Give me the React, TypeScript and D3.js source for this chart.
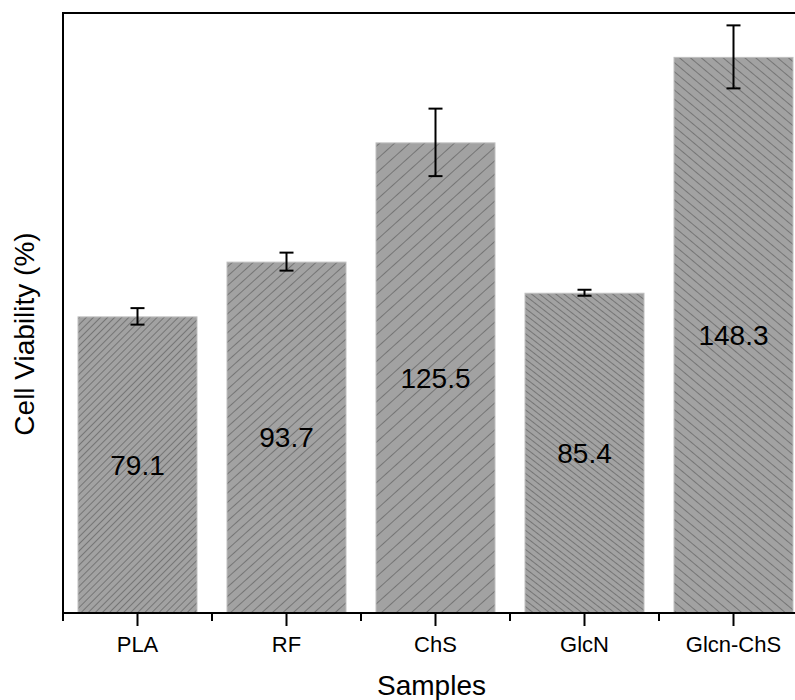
import React from "react";
import * as d3 from "d3";

const categories = ["PLA", "RF", "ChS", "GlcN", "Glcn-ChS"];
const values = [79.1, 93.7, 125.5, 85.4, 148.3];
const errors = [2.2, 2.4, 9.0, 0.8, 8.4];
const hatchDir = ["/", "/", "/", "\\", "\\"];
const hatchAngle = [45, 42, 42, 38, 40];
const hatchGap = [5, 7, 10, 5, 7];
const yDomain = [0, 160];

const W = 795;
const H = 700;
const left = 63;
const right = 808;
const top = 13;
const bottom = 613;

export default function App() {
  const x = d3
    .scaleBand<string>()
    .domain(categories)
    .range([left, right])
    .paddingInner(29 / 149)
    .paddingOuter(29 / 149 / 2);
  const y = d3.scaleLinear().domain(yDomain).range([bottom, top]);
  const step = x.step();
  const bw = x.bandwidth();
  const font = "'Liberation Sans', Arial, sans-serif";

  return (
    <svg
      width={W}
      height={H}
      style={{ position: "absolute", left: 0, top: 0, display: "block", background: "#fff" }}
    >
      <defs>
        {categories.map((c, i) => {
          const rot = hatchDir[i] === "/" ? 90 - hatchAngle[i] : -(90 - hatchAngle[i]);
          const g = hatchGap[i];
          return (
            <pattern
              key={c}
              id={`hatch${i}`}
              patternUnits="userSpaceOnUse"
              width={g}
              height={g}
              patternTransform={`rotate(${rot})`}
            >
              <rect width={g} height={g} fill="#a2a2a2" />
              <line x1={0.5} y1={0} x2={0.5} y2={g} stroke="#757575" strokeWidth={1} />
            </pattern>
          );
        })}
      </defs>

      {categories.map((c, i) => {
        const x0 = x(c)!;
        const yTop = y(values[i]);
        const cx = x0 + bw / 2;
        const eTop = y(values[i] + errors[i]);
        const eBot = y(values[i] - errors[i]);
        const mid = (yTop + bottom) / 2;
        return (
          <g key={c}>
            <rect
              x={x0 + 0.5}
              y={yTop + 0.5}
              width={bw - 1}
              height={bottom - yTop - 0.5}
              fill={`url(#hatch${i})`}
              stroke="#bfbfbf"
              strokeWidth={1}
            />
            <line x1={cx} x2={cx} y1={eTop} y2={eBot} stroke="#000" strokeWidth={2} />
            <line x1={cx - 7} x2={cx + 7} y1={eTop} y2={eTop} stroke="#000" strokeWidth={2} />
            <line x1={cx - 7} x2={cx + 7} y1={eBot} y2={eBot} stroke="#000" strokeWidth={2} />
            <text
              x={cx}
              y={mid + 10}
              textAnchor="middle"
              fontFamily={font}
              fontSize={28}
              fill="#000"
            >
              {values[i].toFixed(1)}
            </text>
          </g>
        );
      })}

      {/* frame */}
      <line x1={left} x2={right} y1={top} y2={top} stroke="#000" strokeWidth={2} />
      <line x1={left} x2={left} y1={top - 1} y2={bottom + 1} stroke="#000" strokeWidth={2} />
      <line x1={left - 1} x2={right} y1={bottom} y2={bottom} stroke="#000" strokeWidth={2} />

      {/* ticks */}
      {categories.map((c, i) => (
        <g key={"t" + c}>
          <line
            x1={x(c)! + bw / 2}
            x2={x(c)! + bw / 2}
            y1={bottom}
            y2={bottom + 13}
            stroke="#000"
            strokeWidth={2}
          />
          <line
            x1={left + i * step}
            x2={left + i * step}
            y1={bottom}
            y2={bottom + 8}
            stroke="#000"
            strokeWidth={2}
          />
          <text
            x={x(c)! + bw / 2}
            y={652}
            textAnchor="middle"
            fontFamily={font}
            fontSize={22}
            fill="#000"
          >
            {c}
          </text>
        </g>
      ))}

      <text x={(left + right) / 2 - 4} y={695} textAnchor="middle" fontFamily={font} fontSize={28} fill="#000">
        Samples
      </text>
      <text
        transform={`translate(34, 334) rotate(-90)`}
        textAnchor="middle"
        fontFamily={font}
        fontSize={28}
        fill="#000"
      >
        Cell Viability (%)
      </text>
    </svg>
  );
}
